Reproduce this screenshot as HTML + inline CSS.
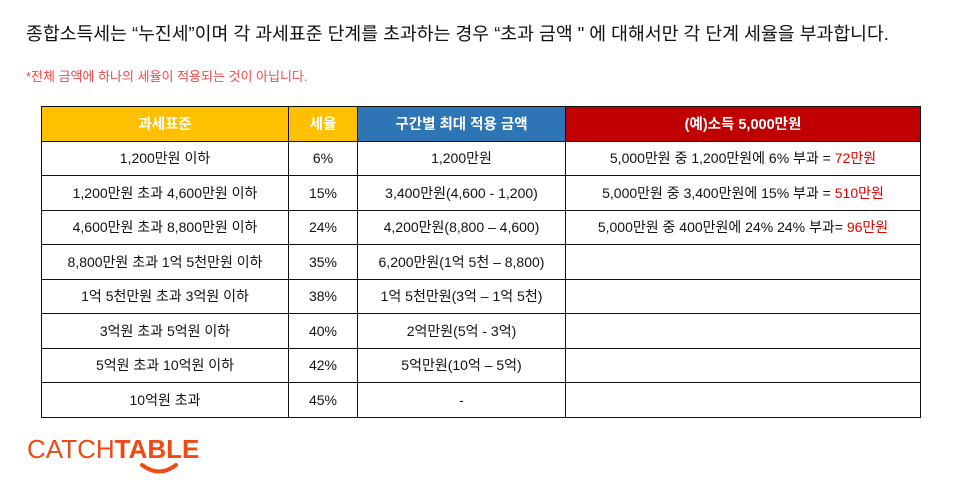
<!DOCTYPE html>
<html><head><meta charset="utf-8"><style>
body{margin:0;width:956px;height:501px;background:#fff;font-family:"Liberation Sans","Noto Sans CJK KR",sans-serif;position:relative;overflow:hidden}
.t{position:absolute;left:26px;top:20px;font-size:18.3px;color:#111;white-space:nowrap}
.s{position:absolute;left:26px;top:66px;font-size:13px;color:#f04848;white-space:nowrap}
table{position:absolute;left:41px;top:106px;border-collapse:collapse;width:880px;font-size:14px;color:#111}
td,th{border:1.5px solid #111;text-align:center;padding:0;height:33px;white-space:nowrap}
tr{height:34.5px}
th{color:#fff;font-weight:bold;font-size:14.5px}
.r{color:#e00000}
.logo{position:absolute;left:27px;top:434px;font-size:26px;color:#f04a14;letter-spacing:0px;white-space:nowrap}
</style></head><body>
<div class="t">종합소득세는 “누진세”이며 각 과세표준 단계를 초과하는 경우 “초과 금액 " 에 대해서만 각 단계 세율을 부과합니다.</div>
<div class="s">*전체 금액에 하나의 세율이 적용되는 것이 아닙니다.</div>
<table>
<tr><th style="background:#FFC000;width:246px">과세표준</th><th style="background:#FFC000;width:68px">세율</th><th style="background:#2E75B6;width:207px">구간별 최대 적용 금액</th><th style="background:#C00000">(예)소득 5,000만원</th></tr>
<tr><td>1,200만원 이하</td><td>6%</td><td>1,200만원</td><td>5,000만원 중 1,200만원에 6% 부과 = <span class="r">72만원</span></td></tr>
<tr><td>1,200만원 초과 4,600만원 이하</td><td>15%</td><td>3,400만원(4,600 - 1,200)</td><td>5,000만원 중 3,400만원에 15% 부과 = <span class="r">510만원</span></td></tr>
<tr><td>4,600만원 초과 8,800만원 이하</td><td>24%</td><td>4,200만원(8,800 – 4,600)</td><td>5,000만원 중 400만원에 24% 24% 부과= <span class="r">96만원</span></td></tr>
<tr><td>8,800만원 초과 1억 5천만원 이하</td><td>35%</td><td>6,200만원(1억 5천 – 8,800)</td><td></td></tr>
<tr><td>1억 5천만원 초과 3억원 이하</td><td>38%</td><td>1억 5천만원(3억 – 1억 5천)</td><td></td></tr>
<tr><td>3억원 초과 5억원 이하</td><td>40%</td><td>2억만원(5억 - 3억)</td><td></td></tr>
<tr><td>5억원 초과 10억원 이하</td><td>42%</td><td>5억만원(10억 – 5억)</td><td></td></tr>
<tr><td>10억원 초과</td><td>45%</td><td>-</td><td></td></tr>
</table>
<div class="logo"><span style="font-weight:300">CATCH</span><b>TABLE</b></div>
<svg style="position:absolute;left:139px;top:462px" width="40" height="14"><path d="M3 3 Q20 16 37 3" stroke="#f04a14" stroke-width="4" fill="none" stroke-linecap="round"/></svg>
</body></html>
